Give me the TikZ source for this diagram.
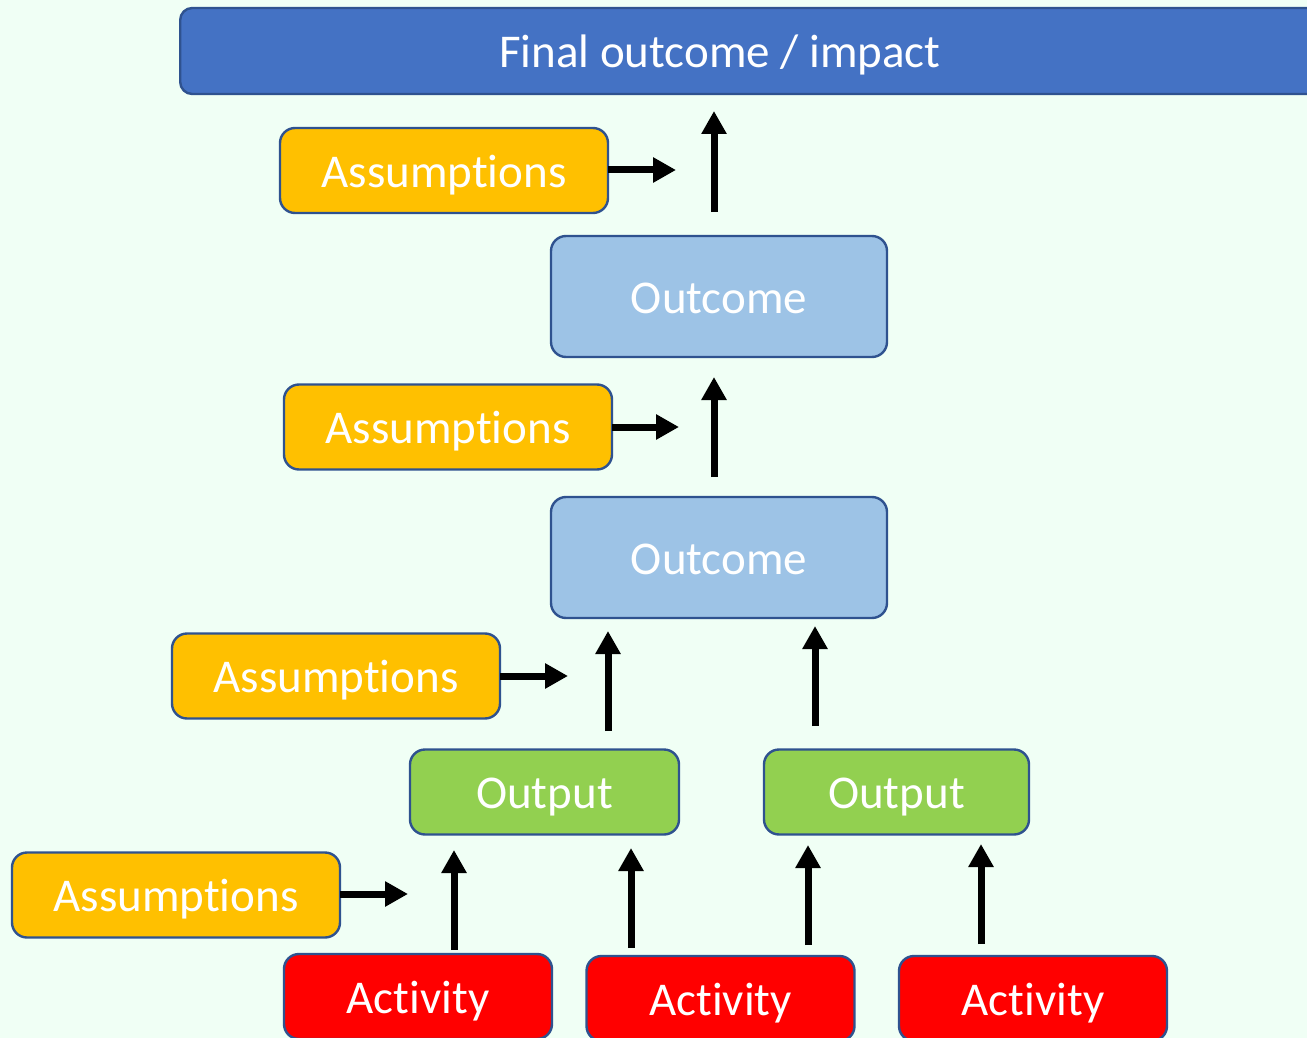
\documentclass[tikz,border=0pt]{standalone}
\usepackage{fontspec}
\setmainfont[RawFeature={-liga;-clig;-dlig}]{Carlito}
\usetikzlibrary{arrows.meta}
\definecolor{bgc}{RGB}{240,255,245}
\definecolor{bordc}{RGB}{47,82,143}
\definecolor{topc}{RGB}{68,114,196}
\definecolor{assc}{RGB}{255,192,0}
\definecolor{outcc}{RGB}{157,195,230}
\definecolor{outpc}{RGB}{146,208,80}
\definecolor{actc}{RGB}{255,0,0}
\tikzset{
  box/.style={draw=bordc, line width=2.4pt, rounded corners=15pt, text=white,
    font=\fontsize{47}{50}\selectfont, text height=33pt, text depth=0pt,
    inner sep=0pt, minimum height=85pt},
  assum/.style={box, fill=assc, minimum width=328pt},
  outc/.style={box, fill=outcc, minimum width=336pt, minimum height=121pt},
  outp/.style={box, fill=outpc},
  act/.style={box, fill=actc, minimum width=268pt},
  arr/.style={line width=7pt, -{Triangle[width=24pt,length=23pt]}}
}
\newcommand{\assumtext}{Assumpt\kern0pt ions}
\newcommand{\acttext}{Act\kern0pt ivity}
\begin{document}
\begin{tikzpicture}[x=1pt,y=-1pt]
\fill[bgc] (0,0) rectangle (1307,1038);
\useasboundingbox (0,0) rectangle (1307,1038);
\clip (0,0) rectangle (1307,1038);
% top bar
\node[box, fill=topc, minimum width=1150pt, minimum height=86pt, rounded corners=12pt, anchor=west] (top) at (179,51) {};
\node[text=white, font=\fontsize{47}{50}\selectfont, text height=33pt, text depth=0pt, inner sep=0pt] (toptxt) at (720,51) {Final outcome / impact};
% assumptions
\node[assum] (as1) at (444,170.5) {\assumtext};
\node[assum] (as2) at (448,427) {\assumtext};
\node[assum] (as3) at (336,676) {\assumtext};
\node[assum] (as4) at (176,895) {\assumtext};
% outcomes
\node[outc] (oc1) at (719,296.5) {Outcome};
\node[outc] (oc2) at (719,557.5) {Outcome};
% outputs
\node[outp, minimum width=269pt] (op1) at (544.5,792) {Output};
\node[outp, minimum width=265pt] (op2) at (896.5,792) {Output};
% activities
\node[act] (ac1) at (418,996.5) {\acttext};
\node[act] (ac2) at (720.5,998.5) {\acttext};
\node[act] (ac3) at (1033,998.5) {\acttext};
% arrow coordinates
\coordinate (h1s) at (608,170); \coordinate (h1e) at (676,170);
\coordinate (h2s) at (612,427); \coordinate (h2e) at (679,427);
\coordinate (h3s) at (500,676); \coordinate (h3e) at (568,676);
\coordinate (h4s) at (340,894); \coordinate (h4e) at (408,894);
\coordinate (v1s) at (714,212); \coordinate (v1e) at (714,111);
\coordinate (v2s) at (714,477); \coordinate (v2e) at (714,377);
\coordinate (v3s) at (608,731); \coordinate (v3e) at (608,631);
\coordinate (v4s) at (815,726); \coordinate (v4e) at (815,626);
\coordinate (v5s) at (454,950); \coordinate (v5e) at (454,850);
\coordinate (v6s) at (631,948); \coordinate (v6e) at (631,848);
\coordinate (v7s) at (808,945); \coordinate (v7e) at (808,845);
\coordinate (v8s) at (981,944); \coordinate (v8e) at (981,844);
\foreach \a in {h1,h2,h3,h4,v1,v2,v3,v4,v5,v6,v7,v8}
  \draw[arr] (\a s) -- (\a e);
\end{tikzpicture}
\end{document}
